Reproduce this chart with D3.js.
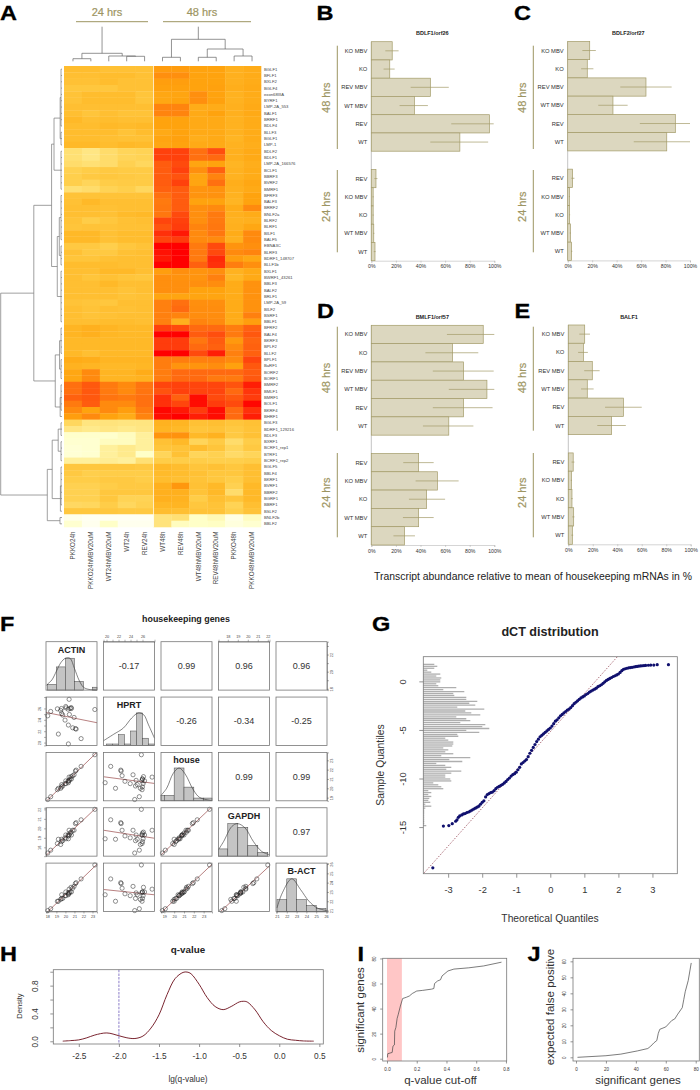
<!DOCTYPE html>
<html>
<head>
<meta charset="utf-8">
<script src="https://cdn.jsdelivr.net/npm/d3@7"></script>
<style>
    body { margin: 0; background: #fff; }
    text { font-family: "Liberation Sans", Arial, sans-serif; }
    .panel-letter { font-size: 21px; font-weight: bold; fill: #000; stroke: #000; stroke-width: 0.3; }
    .bar-axis path, .bar-axis line { stroke: #aaa; stroke-width: 0.5; }
    .bar-axis text { font-size: 5.2px; fill: #333; }
    .pair-axis path, .pair-axis line { stroke: #444; stroke-width: 0.4; }
    .pair-axis text { font-size: 3.8px; fill: #444; }
    .r-axis path, .r-axis line { stroke: #666; stroke-width: 0.7; }
    .frame { fill: none; stroke: #777; stroke-width: 0.8; }
</style>
</head>
<body>
<svg id="chart" width="700" height="1090"></svg>
<script>
// ---- panel A
const heatColumns = ['PKKO24h', 'PKKO24hMBV20uM', 'WT24hMBV20uM', 'WT24h', 'REV24h', 'WT48h', 'REV48h',
    'WT48hMBV20uM', 'REV48hMBV20uM', 'PKKO48h', 'PKKO48hMBV20uM'];
const heatGenes = ['BGLF1', 'BFLF1', 'BXLF2', 'BGLF4', 'exon68IIIA', 'BYRF1', 'LMP-2A_553', 'BALF1', 'BRRF1', 'BDLF4',
    'BLLF3', 'BGLF1', 'LMP-1', 'BDLF2', 'BDLF1', 'LMP-2A_166576', 'BCLF1', 'BBRF3', 'BVRF2', 'BMRF1', 'BFRF3',
    'BALF3', 'BRRF2', 'BNLF2a', 'BLRF2', 'BLRF1', 'BILF1', 'BALF5', 'EBNA3C', 'BLRF3', 'BDRF1_148707', 'BLLF1b',
    'BXLF1', 'BWRF1_43261', 'BBLF3', 'BALF2', 'BRLF1', 'LMP-2A_59', 'BILF2', 'BSRF1', 'BBLF1', 'BFRF2', 'BALF4',
    'BKRF3', 'BPLF2', 'BLLF2', 'BPLF1', 'BaRF1', 'BORF2', 'BORF1', 'BMRF2', 'BMLF1', 'BMRF1', 'BOLF1', 'BKRF4',
    'BHRF1', 'BGLF3', 'BDRF1_129216', 'BDLF3', 'BXRF1', 'BCRF1_rep1', 'BTRF1', 'BCRF1_rep2', 'BGLF5', 'BBLF4',
    'BKRF1', 'BVRF1', 'BBRF2', 'BGRF1', 'BBRF1', 'BSLF2', 'BNLF2b', 'BBLF2'];
const heatValues = [
    [4.8, 4.8, 4.6, 4.6, 4.6, 6.3, 6.3, 6, 6, 5.4, 5.6],
    [4.7, 4.7, 4.8, 4.8, 4.6, 6.8, 6.8, 6, 6, 5.4, 5.6],
    [4.6, 4.6, 4.8, 4.6, 4.6, 6.2, 6.2, 6, 6, 5.4, 5.6],
    [4.3, 4.3, 4.3, 4.6, 4.6, 6.1, 6.1, 6, 6.1, 5.5, 5.7],
    [4.5, 4.8, 4.8, 4.8, 4.4, 5.8, 5.9, 6.8, 6, 5.3, 5.6],
    [4.5, 4.8, 4.8, 4.8, 4.4, 5.8, 6, 6.8, 6.1, 5.3, 5.6],
    [4.7, 4.7, 4.7, 4.7, 4.7, 7.2, 7.2, 5.6, 5.6, 5.4, 5.7],
    [4.7, 4.4, 4.7, 4.5, 4.5, 7.2, 7.2, 5.7, 6, 5.4, 5.7],
    [5, 4.7, 4.8, 4.7, 4.7, 6, 6, 5.7, 5.7, 5.3, 5.6],
    [4.8, 4.8, 5, 4.9, 5, 6, 6, 5.7, 5.7, 5.3, 5.6],
    [4.8, 4.8, 4.8, 4.5, 4.8, 5.7, 6, 5.7, 5.7, 5.3, 5.6],
    [4.8, 4.8, 4.7, 4.6, 4.6, 5.9, 6.1, 5.5, 5.7, 5.2, 5.6],
    [5, 5, 4.8, 5, 4.9, 5.8, 6, 5.7, 5.7, 5.3, 5.5],
    [3, 2.6, 3.2, 3.6, 3.7, 8.9, 8.9, 7.8, 8.6, 5.4, 5.7],
    [3, 2.6, 3.2, 3.6, 3.7, 8.9, 8.9, 7.8, 8, 5.4, 5.7],
    [3.2, 3, 3.2, 3.8, 3.5, 8.3, 8.7, 5.9, 6, 5.2, 5.5],
    [3.8, 4, 4.2, 4.1, 4.1, 8.3, 8.9, 6.8, 8.2, 5.3, 5.6],
    [3.9, 4.2, 4.3, 4.2, 4.1, 8.3, 8.5, 5.9, 7.2, 5.3, 5.6],
    [3.9, 3.6, 4, 4.1, 4.1, 8.3, 8.9, 5.9, 7.8, 5.5, 5.8],
    [3, 3.2, 3.7, 3.9, 3.5, 8.2, 8.3, 6.6, 6.7, 5.4, 5.7],
    [4.5, 4.5, 4.5, 4.5, 4.5, 7.8, 8.3, 6.6, 6.7, 5.3, 6],
    [4.6, 5, 4.7, 4.7, 4.7, 7.5, 8.3, 6, 6, 5.2, 6],
    [4.7, 4.7, 4.6, 4.7, 4.7, 7.6, 8.3, 6.8, 7, 5.6, 7],
    [4.7, 4.7, 4.6, 4.9, 5, 7.6, 8.7, 6.8, 7.5, 5.4, 5.6],
    [4.5, 4, 4.3, 4.6, 4.7, 8.8, 8.9, 6.8, 7.5, 5.3, 5.4],
    [4.4, 4.5, 4.5, 4.6, 4.6, 8.5, 9, 7.2, 7.6, 5.4, 5.8],
    [5, 5, 4.6, 4.8, 4.8, 9.2, 9.6, 7, 7.6, 5.6, 7],
    [5, 5, 4.6, 4.8, 4.8, 8.8, 9, 7, 7, 5.4, 7],
    [4.2, 4.2, 3.9, 4.3, 4.5, 10, 10, 7.5, 8.7, 6.6, 6.8],
    [4.6, 4.2, 4.2, 4.6, 4.7, 9.7, 10, 7.5, 8.7, 7, 7.2],
    [4.4, 4.4, 4.6, 4.7, 4.7, 9.6, 10, 7.5, 9.3, 6.3, 5.8],
    [4.8, 4.8, 4.8, 4.7, 4.7, 10, 10, 8.2, 9.2, 7.4, 6.8],
    [4.7, 4.7, 5, 5, 4.7, 6.2, 6.8, 6.6, 6.8, 5.3, 5.7],
    [4.7, 4.4, 4.6, 4.4, 4.3, 6.8, 6.7, 6.6, 7.3, 5.1, 5.7],
    [4.7, 4.7, 5, 4.7, 4.7, 6.8, 6.8, 6.8, 6.9, 5.6, 6.7],
    [4.7, 4.7, 4.7, 4.5, 4.7, 6.8, 6.8, 6, 6, 5.6, 6.7],
    [4.7, 4.7, 4.7, 4.5, 4.6, 5.9, 5.9, 5.9, 5.9, 5.6, 6.7],
    [4.5, 4.4, 4.3, 4.7, 4.7, 7.3, 7.8, 6.8, 6.8, 5.6, 6.7],
    [4.7, 4.5, 4.7, 4.6, 4.7, 7.3, 8, 6.9, 6.9, 5.6, 6.7],
    [4.7, 4.5, 4.6, 4.7, 4.7, 7.3, 7.2, 6.9, 6.9, 5.6, 7.3],
    [4.7, 4.7, 4.8, 4.8, 4.7, 7.3, 5.4, 7.2, 7, 5.6, 6.2],
    [5.2, 5.4, 5.2, 5, 5, 8.9, 8.7, 8, 8, 7.4, 8.2],
    [5.2, 5.4, 5.1, 5, 5, 10, 10, 8.3, 8.6, 7.5, 8.4],
    [5, 5, 5, 5, 5, 9, 9, 7.6, 8.3, 6.4, 8.1],
    [5, 5, 5, 5, 5, 9, 9, 8, 8.2, 7, 8.2],
    [5, 4.7, 5, 5, 5, 10, 10, 8.7, 9.5, 7.3, 8.2],
    [5.6, 5.5, 5.2, 5.2, 5.2, 7.4, 7.4, 7.3, 7.3, 7, 8.8],
    [5.3, 5.2, 5, 5, 5.1, 7.4, 6.6, 6.6, 6.9, 6.1, 8.4],
    [5.8, 7, 5.2, 5.2, 5.6, 7.4, 8, 8, 8, 8, 8.3],
    [5.8, 7, 5.2, 5.2, 5.3, 7.4, 8, 8, 7.5, 7.5, 8.4],
    [7.8, 8.4, 7.5, 7, 7.7, 8.8, 8.9, 8.8, 8.8, 8.5, 9.5],
    [7.8, 8.4, 7.5, 7, 7.7, 8.5, 8.9, 8.8, 8.8, 8, 9.1],
    [8.2, 8.4, 7.7, 7.5, 7.8, 9.2, 8.2, 9.8, 8.7, 8.4, 9],
    [7.5, 8.3, 7, 7, 7.8, 9.2, 8.8, 9.8, 9, 8.7, 9.9],
    [7, 6, 7, 6.2, 7.5, 9.9, 9.6, 9, 9.8, 8, 9.2],
    [6.2, 7, 6, 5.6, 7.2, 9.8, 10, 9.5, 9.8, 8, 9.5],
    [3.5, 2.7, 2.8, 2.7, 2.7, 5.3, 5.2, 4.6, 4.7, 4.4, 4.6],
    [2.6, 2.4, 2.6, 2.4, 2.6, 5.2, 5, 4.4, 4.5, 4.2, 4.5],
    [0.9, 0.9, 0.9, 1.2, 2, 6.6, 6.7, 5, 5.3, 4.2, 4.6],
    [0.8, 0.8, 1.2, 1.2, 2, 4.6, 5, 3.6, 4.1, 3.2, 4],
    [0.7, 0.8, 2, 2.4, 2, 4.4, 4.5, 4.8, 4.4, 3.6, 4.2],
    [0.7, 0.8, 2, 2.4, 1, 3.6, 4.6, 3.6, 3.8, 3.3, 3.6],
    [2, 2, 2.2, 2, 3, 4, 4, 4, 3.9, 3.9, 4],
    [4.3, 4.3, 4.3, 4.3, 4.2, 5, 4.8, 4.4, 4.6, 4.3, 4.7],
    [4.2, 3.9, 4, 4, 4, 4.9, 4.8, 4.6, 4.3, 4.3, 4.7],
    [4, 4, 4.2, 4.2, 4, 4.8, 4.7, 4.5, 4.3, 4, 4.7],
    [3.8, 3.8, 4, 4.2, 4.2, 5.4, 6.5, 4.6, 5, 3.8, 5],
    [3.8, 3.8, 4.3, 4.3, 4.3, 5.4, 5.4, 4.5, 5, 3.2, 5],
    [3.8, 3.8, 4.3, 3.7, 3.7, 5.4, 5.3, 4, 4.7, 4.4, 5],
    [3.4, 3.5, 4, 3.5, 3.8, 5.1, 5.2, 4.3, 4.5, 3.7, 4.7],
    [4.3, 4.3, 4.3, 4.2, 4.2, 4.8, 4.7, 4.5, 4.5, 3.9, 4.5],
    [0.2, 0, 0, 0, 0, 2.8, 3, 1, 1.4, 0.3, 1.2],
    [0.8, 0.1, 1, 0.1, 0.1, 2.8, 1.2, 1, 1.1, 0.5, 0.8]
];
const heatStops = [0, 1, 2, 3, 4, 5, 6, 7, 8, 9, 10];
const heatColors = ['#fffff2', '#ffffc8', '#fff09c', '#ffe074', '#ffcd48', '#ffb928', '#ffa30e', '#ff8a0e', '#ff6a10', '#ff3c0c', '#ff0000'];

// dendrograms: [height, child, child...], a plain number is a leaf
const span = (h, a, b) => [h, ...d3.range(a, b + 1)];
const columnTreeLeft = [34.6, [8, [2.6, 0, 1], [5.3, 2, [5, 3, 4]]]];
const columnTreeRight = [34.6, [22, [4, 5, 6], [12.3, [4, 7, 8], [5.3, 9, 10]]]];
const rowTree = [100,
    [46,
        [17,
            [13, [3, span(1.6, 0, 9), span(1.6, 10, 12)], span(1.6, 13, 19)],
            [7.7, [4.4, span(1.6, 20, 27), span(1.6, 28, 31)], span(1.6, 32, 40)]],
        [11,
            [4, span(1.6, 41, 45), span(1.6, 46, 49)],
            [3, span(1.6, 50, 54), 55]]],
    [24,
        [16,
            [6.2, span(1.6, 56, 58), span(1.6, 59, 62)],
            [2.6, span(1.6, 63, 69), 70]],
        [3.3, 71, 72]]];

// ---- panels B to E
const barLabels = ['KO MBV', 'KO', 'REV MBV', 'WT MBV', 'REV', 'WT', '', 'REV', 'KO MBV', 'KO', 'WT MBV', 'WT'];
const bdlf1Bar = [17, 15, 48, 35, 96, 72, null, 3.8, 1.5, 1.5, 2, 3];
const bdlf1Low = [11.4, 10, 32, 23, 65, 48, null, 2.5, 1, 1, 1.5, 2];
const bdlf1High = [22.2, 19, 63, 46, 99.5, 95, null, 5, 2, 2, 2.5, 3.5];
const bdlf2Bar = [18, 16, 64, 37, 88, 81, null, 4, 1.4, 1.6, 2.2, 3.2];
const bdlf2Low = [12, 11, 43, 25, 59, 54, null, 3, 1, 1.2, 1.7, 2.7];
const bdlf2High = [23, 21, 85, 49, 100, 100, null, 5.5, 1.8, 2, 2.7, 3.8];
const bmlf1Bar = [91, 66, 75, 94, 75, 63, null, 38.5, 53.7, 45, 38.5, 27];
const bmlf1Low = [61.5, 44, 50, 63, 50, 42, null, 26, 36, 30.6, 25.7, 18];
const bmlf1High = [100, 87, 99.5, 100, 98.6, 83, null, 50.7, 71, 60, 50.7, 35.5];
const balf1Bar = [13.4, 12.3, 19.6, 15.5, 45, 35.4, null, 4, 2.5, 3, 4.4, 3.3];
const balf1Low = [9, 8, 13, 10.4, 30, 23.7, null, 2.7, 2, 2.3, 3.3, 2.5];
const balf1High = [17.7, 16, 25.6, 20.7, 60, 47, null, 5, 3, 3.6, 5, 4];
const percentTicks = [0, 20, 40, 60, 80, 100];

// ---- panel F
const sampleActin = [18.04, 18.37, 19.11, 19.22, 19.48, 19.56, 19.59, 19.7, 19.96, 20.04, 20.07, 20.3, 20.41, 20.33, 20.33, 20.44, 20.52, 20.63, 20.67, 20.81, 20.96, 21.11, 21.19, 21.74, 23.26];
const sampleHprt = [24.7, 25.47, 25.93, 21.5, 25.64, 25.99, 25.12, 24.83, 23.95, 26.34, 26.1, 25.87, 27.6, 23.08, 19.77, 24.94, 25.99, 26.16, 25.99, 22.6, 24.42, 22.44, 22.38, 20.7, 25.81];
const sampleHouse = [18.8, 19.1, 19.85, 20, 20, 20.15, 20.4, 20.25, 20.5, 20.8, 20.5, 20.8, 21.2, 20.75, 20.6, 20.85, 21, 21.25, 21, 21.35, 21.45, 21.85, 21.95, 22.35, 23.6];
const sampleGapdh = [17.4, 17.7, 18.4, 18.85, 18.3, 18.6, 18.85, 18.7, 19, 19.3, 18.9, 19.3, 19.8, 19.2, 18.9, 19.3, 19.5, 19.6, 19.3, 19.8, 19.8, 20.5, 20.6, 20.9, 22];
const sampleBact = [21, 21.2, 22, 22, 22.2, 22.3, 22.7, 22.3, 22.6, 23, 22.6, 22.9, 23.3, 22.8, 22.7, 22.9, 23, 23.5, 23, 23.4, 23.6, 23.9, 24, 24.4, 25.9];
const pairNames = ['ACTIN', 'HPRT', 'house', 'GAPDH', 'B-ACT'];
const pairDomains = [[17.85, 23.5], [19.5, 28], [18.66, 23.85], [17.07, 22.17], [20.9, 26.1]];
const pairTicks = [[18, 19, 20, 21, 22, 23], [20, 21, 22, 23, 24, 25, 26], [19, 20, 21, 22, 23], [18, 19, 20, 21, 22], [21, 22, 23, 24, 25, 26]];
const pairCorrelations = [['-0.17', '0.99', '0.96', '0.96'], ['-0.26', '-0.34', '-0.25'], ['0.99', '0.99'], ['0.97']];
const histBreaks = [[18, 19, 20, 21, 22, 23, 24], [20, 21, 22, 23, 24, 25, 26, 27, 28], [18.5, 19, 20, 21, 22, 23, 24], [17, 18, 19, 20, 21, 22], [21, 22, 23, 24, 25, 26]];
const histCounts = [[2, 8, 11, 3, 0, 1], [0.4, 0.4, 3, 0.4, 4, 9, 2, 0.4], [2, 2, 12, 5, 1, 1], [2, 9, 8, 3, 1], [4, 11, 4, 2, 1]];
const histTop = [16.7, 13.4, 17.7, 13.4, 16.3];
const densityX = [
    [17.9, 18, 18.5, 19, 19.5, 20, 20.5, 21, 21.5, 22, 22.5, 23, 23.5],
    [19.5, 21.2, 22.8, 24.2, 25.3, 26.2, 27, 28],
    [18.66, 19.24, 19.9, 20.5, 21.1, 21.95, 22.6, 23.85],
    [17.07, 17.57, 18.4, 18.97, 19.73, 20.57, 21.4, 22.17],
    [21, 21.55, 22.5, 23.4, 24.25, 25.1, 26.1]];
const densityY = [
    [1.6, 2, 3.5, 6.5, 9.5, 11, 11, 7.5, 3.5, 1, 0.3, 0.1, 0],
    [1.3, 3.1, 4.8, 7.6, 9, 8.5, 5.7, 2],
    [2, 4.6, 10, 12, 9.9, 4, 1.2, 0.1],
    [1.8, 4, 8.2, 9, 7.8, 4, 1.3, 0.4],
    [1.2, 6.3, 11, 7.4, 3.5, 1.2, 0.3]];

// ---- panel G
const qqTheoretical = [-3.45, -3.14, -2.98, -2.88, -2.78, -2.74, -2.7, -2.66, -2.6, -2.55, -2.5, -2.45, -2.4, -2.35, -2.3, -2.25, -2.2, -2.15, -2.1, -2.05, -2, -1.95, -1.9, -1.85, -1.8, -1.75, -1.7, -1.65, -1.6, -1.55, -1.5, -1.45, -1.4, -1.35, -1.3, -1.25, -1.2, -1.15, -1.1, -1.05, -1, -0.95, -0.9, -0.85, -0.8, -0.75, -0.7, -0.65, -0.6, -0.55, -0.5, -0.45, -0.4, -0.35, -0.3, -0.25, -0.2, -0.15, -0.1, -0.05, 0, 0.05, 0.1, 0.15, 0.2, 0.25, 0.3, 0.35, 0.4, 0.45, 0.5, 0.55, 0.6, 0.65, 0.7, 0.75, 0.8, 0.85, 0.9, 0.95, 1, 1.05, 1.1, 1.15, 1.2, 1.25, 1.3, 1.35, 1.4, 1.45, 1.5, 1.55, 1.6, 1.65, 1.7, 1.75, 1.8, 1.85, 1.9, 1.95, 2, 2.05, 2.1, 2.15, 2.2, 2.25, 2.3, 2.35, 2.4, 2.45, 2.5, 2.55, 2.6, 2.65, 2.7, 2.75, 2.8, 2.88, 2.95, 3.04, 3.14, 3.47];
const qqSample = [-19.2, -14.9, -14.85, -14.65, -14.4, -14.25, -14, -13.85, -13.75, -13.65, -13.6, -13.5, -13.45, -13.35, -13.25, -13.15, -13.05, -12.95, -12.85, -12.65, -12.45, -12.3, -11.9, -11.65, -11.55, -11.45, -11.4, -11.25, -11.05, -10.9, -10.8, -10.7, -10.6, -10.45, -10.3, -10.1, -9.95, -9.75, -9.6, -9.5, -9.35, -9.1, -8.85, -8.5, -8.35, -8.2, -8.05, -7.75, -7.4, -7.1, -6.8, -6.5, -6.2, -5.95, -5.7, -5.55, -5.4, -5.25, -5.1, -4.95, -4.8, -4.6, -4.35, -4.1, -3.95, -3.75, -3.55, -3.4, -3.25, -3.1, -2.95, -2.85, -2.7, -2.5, -2.3, -2.15, -2, -1.85, -1.7, -1.6, -1.5, -1.35, -1.25, -1.1, -1, -0.9, -0.8, -0.7, -0.55, -0.45, -0.35, -0.2, -0.05, 0.1, 0.2, 0.3, 0.4, 0.5, 0.58, 0.66, 0.76, 0.92, 1.1, 1.24, 1.3, 1.35, 1.39, 1.42, 1.45, 1.48, 1.51, 1.54, 1.57, 1.59, 1.61, 1.63, 1.64, 1.66, 1.68, 1.68, 1.72, 1.72];
const qqLineX = [-3.7, 1.97];
const qqLineY = [-19.7, 2.54];
const qqXTicks = [-3, -2, -1, 0, 1, 2, 3];
const qqYTicks = [0, -5, -10, -15];
const qqHistTop = 1.75;
const qqHistStep = 0.2;
const qqHistCounts = [11, 14, 11, 4, 8, 17, 13, 18, 17, 17, 13, 15, 33, 20, 41, 30, 31, 43, 43, 54, 46, 52, 34, 61, 42, 48, 57, 33, 43, 47, 37, 62, 59, 66, 43, 56, 34, 35, 22, 25, 30,
    30, 29, 20, 25, 22, 30, 18, 47, 26, 39, 13, 22, 28, 23, 38, 28, 22, 22, 27, 28, 10, 15, 18, 20, 5, 8, 5, 8, 6, 5, 7, 2, 8, 2, 1, 1, 1, 1, 1, 1, 1, 1, 3];

// ---- panel H
const densityLogQ = [-2.7, -2.6, -2.5, -2.4, -2.3, -2.15, -2, -1.9, -1.8, -1.7, -1.6, -1.5, -1.4, -1.3, -1.2, -1.15, -1.1, -1, -0.9, -0.8, -0.7, -0.6, -0.5, -0.45, -0.4, -0.3, -0.2, -0.1, 0, 0.1, 0.2, 0.3, 0.43];
const densityValue = [0.002, 0.01, 0.02, 0.05, 0.09, 0.12, 0.08, 0.05, 0.04, 0.075, 0.19, 0.38, 0.67, 0.9, 0.99, 0.995, 0.97, 0.82, 0.63, 0.5, 0.455, 0.5, 0.565, 0.575, 0.565, 0.45, 0.28, 0.155, 0.08, 0.03, 0.015, 0.005, 0.002];
const qCutoff = -2;

// ---- panels I and J
const cutoffQ = [0.003, 0.005, 0.02, 0.035, 0.04, 0.05, 0.052, 0.06, 0.068, 0.075, 0.09, 0.105, 0.13, 0.15, 0.17, 0.2, 0.24, 0.3, 0.315, 0.32, 0.34, 0.36, 0.37, 0.39, 0.41, 0.45, 0.55, 0.65, 0.77];
const cutoffGenes = [1, 4, 4.5, 5, 10, 11, 22, 25, 32, 35, 42, 48, 49, 50, 52, 54, 54.5, 55.5, 56, 60, 62, 63, 66, 68, 70, 71.5, 72.5, 74, 77];
const falseGenes = [1, 20, 30, 41, 48, 50, 52, 54, 55, 56, 60, 64, 66, 68, 71, 72, 73, 75, 77];
const falsePositive = [0, 1, 2, 4, 5.5, 7, 9, 10.5, 15, 17.5, 19, 23, 24, 27, 31, 36, 41, 48, 59];

const svg = d3.select('#chart');
const olive = '#9d9562';

const addLetters = () => {
    const letters = [['A', 0, 19.5], ['B', 316.5, 20], ['C', 514, 20], ['D', 317, 317.5], ['E', 514.5, 317.5],
        ['F', 0, 631], ['G', 372, 631], ['H', 0, 961], ['I', 357.5, 961], ['J', 527.5, 961]];

    svg.selectAll('.panel-letter')
        .data(letters)
        .join('text')
        .classed('panel-letter', true)
        .attr('transform', d => 'translate(' + d[1] + ',' + d[2] + ') scale(1.12,1)')
        .text(d => d[0]);
};

// lays a nested tree out; pos(leaf) gives the leaf's position along the heatmap edge
const layoutTree = (spec, pos) => {
    const root = d3.hierarchy(spec, d => Array.isArray(d) ? d.slice(1) : null);
    root.eachAfter(node => {
        node.h = node.children ? node.data[0] : 0;
        node.p = node.children
            ? (node.children[0].p + node.children[node.children.length - 1].p) / 2
            : pos(node.data);
    });
    return root;
};

const treeSegments = (root) => {
    const segments = [];
    root.each(node => {
        if (node.children){
            const first = node.children[0].p;
            const last = node.children[node.children.length - 1].p;
            segments.push([first, node.h, last, node.h]);
            node.children.forEach(child => segments.push([child.p, child.h, child.p, node.h]));
        }
    });
    return segments;
};

const addHeatmap = () => {
    const x = d3.scaleBand().domain(heatColumns).range([64, 261]);
    const y = d3.scaleBand().domain(d3.range(heatGenes.length)).range([66, 527]);
    const color = d3.scaleLinear().domain(heatStops).range(heatColors);

    const g = svg.append('g').classed('heatmap', true);

    heatValues.forEach((row, i) => {
        g.selectAll(null)
            .data(row)
            .join('rect')
            .attr('x', (d, j) => x(heatColumns[j]))
            .attr('y', y(i))
            .attr('width', x.bandwidth() + 0.3)
            .attr('height', y.bandwidth() + 0.3)
            .attr('fill', d => color(d));
    });

    g.append('line')
        .attr('x1', x('WT48h')).attr('x2', x('WT48h'))
        .attr('y1', y.range()[0]).attr('y2', y.range()[1])
        .attr('stroke', '#fff').attr('stroke-width', 0.7);

    g.selectAll('.gene')
        .data(heatGenes)
        .join('text')
        .attr('x', 264)
        .attr('y', (d, i) => y(i) + y.bandwidth() / 2 + 1.4)
        .attr('font-size', 4.2)
        .attr('fill', '#444')
        .text(d => d);

    g.selectAll('.column')
        .data(heatColumns)
        .join('text')
        .attr('text-anchor', 'end')
        .attr('transform', d => 'translate(' + (x(d) + x.bandwidth() / 2 + 2.2) + ',531.5) rotate(-90)')
        .attr('font-size', 6.3)
        .attr('fill', '#444')
        .text(d => d);

    // column trees
    const colY = d3.scaleLinear().domain([0, 34.6]).range([61.3, 26.7]);
    const colPos = leaf => x(heatColumns[leaf]) + x.bandwidth() / 2;
    [columnTreeLeft, columnTreeRight].forEach(tree => {
        g.append('path')
            .attr('fill', 'none').attr('stroke', '#666').attr('stroke-width', 0.7)
            .attr('d', treeSegments(layoutTree(tree, colPos))
                .map(s => 'M' + s[0] + ',' + colY(s[1]) + 'L' + s[2] + ',' + colY(s[3])).join(''));
    });

    // row tree
    const rowX = d3.scaleLinear().domain([0, 100]).range([62, 0.7]);
    const rowPos = leaf => y(leaf) + y.bandwidth() / 2;
    g.append('path')
        .attr('fill', 'none').attr('stroke', '#777').attr('stroke-width', 0.7)
        .attr('d', treeSegments(layoutTree(rowTree, rowPos))
            .map(s => 'M' + rowX(s[1]) + ',' + s[0] + 'L' + rowX(s[3]) + ',' + s[2]).join(''));

    // time brackets
    const groups = [['24 hrs', 107, 76, 148], ['48 hrs', 202, 163, 251]];
    groups.forEach(d => {
        g.append('text')
            .attr('x', d[1]).attr('y', 15.9)
            .attr('text-anchor', 'middle')
            .attr('font-size', 11)
            .attr('fill', olive)
            .attr('stroke', olive)
            .attr('stroke-width', 0.2)
            .text(d[0]);
        g.append('line')
            .attr('x1', d[2]).attr('x2', d[3])
            .attr('y1', 21.7).attr('y2', 21.7)
            .attr('stroke', olive).attr('stroke-width', 1);
    });
};

const addBarPanel = (title, bars, low, high, o) => {
    const x = d3.scaleLinear().domain([0, 100]).range([o.x0, o.x1]);
    const y = d3.scaleBand().domain(d3.range(barLabels.length)).range([o.top, o.bottom]);
    const g = svg.append('g').classed('bar-panel', true);

    g.append('line')
        .attr('x1', o.x0).attr('x2', o.x0)
        .attr('y1', o.top).attr('y2', o.bottom)
        .attr('stroke', '#c4c4c4').attr('stroke-width', 1);

    g.append('g')
        .classed('bar-axis', true)
        .attr('transform', 'translate(0,' + o.bottom + ')')
        .call(d3.axisBottom(x).tickValues(percentTicks).tickFormat(d => d + '%').tickSize(2).tickPadding(2));

    const rows = bars.map((d, i) => ({ i, bar: d, low: low[i], high: high[i], label: barLabels[i] }))
        .filter(d => d.bar !== null);

    g.selectAll('.bar')
        .data(rows)
        .join('rect')
        .attr('x', o.x0)
        .attr('y', d => y(d.i))
        .attr('width', d => x(d.bar) - o.x0)
        .attr('height', y.bandwidth())
        .attr('fill', '#dcd7bf')
        .attr('stroke', '#a39b68')
        .attr('stroke-width', 0.7);

    g.selectAll('.err')
        .data(rows)
        .join('line')
        .attr('x1', d => x(d.low))
        .attr('x2', d => x(d.high))
        .attr('y1', d => y(d.i) + y.bandwidth() / 2)
        .attr('y2', d => y(d.i) + y.bandwidth() / 2)
        .attr('stroke', '#a39b68')
        .attr('stroke-width', 0.7);

    g.selectAll('.lab')
        .data(rows)
        .join('text')
        .attr('x', o.x0 - 4)
        .attr('y', d => y(d.i) + y.bandwidth() / 2 + 2)
        .attr('text-anchor', 'end')
        .attr('font-size', 5.8)
        .attr('fill', '#333')
        .text(d => d.label);

    g.append('text')
        .attr('x', (o.x0 + o.x1) / 2 - 0.5)
        .attr('y', o.titleY)
        .attr('text-anchor', 'middle')
        .attr('font-size', 5.5)
        .attr('font-weight', 'bold')
        .attr('fill', '#222')
        .text(title);

    o.times.forEach(t => {
        g.append('line')
            .attr('x1', o.timeX).attr('x2', o.timeX)
            .attr('y1', t[1]).attr('y2', t[2])
            .attr('stroke', olive).attr('stroke-width', 1);
        g.append('text')
            .attr('transform', 'translate(' + (o.timeX - 7.5) + ',' + t[3] + ') rotate(-90)')
            .attr('text-anchor', 'middle')
            .attr('font-size', 11)
            .attr('fill', olive)
            .attr('stroke', olive)
            .attr('stroke-width', 0.2)
            .text(t[0]);
    });
};

const addBarPanels = () => {
    const upper = [['48 hrs', 45.7, 149, 97.7], ['24 hrs', 170, 252.3, 206.7]];
    const lower = [['48 hrs', 326.7, 430.7, 378], ['24 hrs', 453, 537.3, 492.7]];

    addBarPanel('BDLF1/orf26', bdlf1Bar, bdlf1Low, bdlf1High,
        { x0: 371.3, x1: 494.3, top: 41.7, bottom: 260.7, titleY: 35, timeX: 337.3, times: upper });
    addBarPanel('BDLF2/orf27', bdlf2Bar, bdlf2Low, bdlf2High,
        { x0: 567.7, x1: 690, top: 41.4, bottom: 260.4, titleY: 35, timeX: 533.3, times: upper });
    addBarPanel('BMLF1/orf57', bmlf1Bar, bmlf1Low, bmlf1High,
        { x0: 371.3, x1: 494.3, top: 325.3, bottom: 545, titleY: 319, timeX: 337.3, times: lower });
    addBarPanel('BALF1', balf1Bar, balf1Low, balf1High,
        { x0: 568.3, x1: 690.7, top: 325, bottom: 544.3, titleY: 319, timeX: 533.3, times: lower });

    svg.append('text')
        .attr('x', 533)
        .attr('y', 580)
        .attr('text-anchor', 'middle')
        .attr('font-size', 10.4)
        .attr('fill', '#222')
        .text('Transcript abundance relative to mean of housekeeping mRNAs in %');
};

// least squares line, as the lm overlay in the pairs plot
const fitLine = (xs, ys) => {
    const mx = d3.mean(xs);
    const my = d3.mean(ys);
    const b = d3.sum(xs, (v, i) => (v - mx) * (ys[i] - my)) / d3.sum(xs, v => (v - mx) * (v - mx));
    return v => my + b * (v - mx);
};

const rotateSideTicks = (axis, offset) => {
    axis.selectAll('text')
        .attr('x', 0)
        .attr('dy', 0)
        .attr('text-anchor', 'middle')
        .attr('transform', 'translate(' + offset + ',0) rotate(-90)');
};

const addPairs = () => {
    const samples = [sampleActin, sampleHprt, sampleHouse, sampleGapdh, sampleBact];
    const left = d3.range(5).map(i => 46 + 57.5 * i);
    const top = d3.range(5).map(i => 641.7 + 55.35 * i);
    const w = 51;
    const h = 48.4;

    svg.append('text')
        .attr('x', 186).attr('y', 622)
        .attr('text-anchor', 'middle')
        .attr('font-size', 8.9).attr('font-weight', 'bold').attr('fill', '#222')
        .text('housekeeping genes');

    const xScales = pairDomains.map((d, i) => d3.scaleLinear().domain(d).range([left[i], left[i] + w]).clamp(true));
    const yScales = pairDomains.map((d, i) => d3.scaleLinear().domain(d).range([top[i] + h, top[i]]));
    const defs = svg.append('defs');

    d3.range(5).forEach(row => d3.range(5).forEach(col => {
        if (row === col){
            const histY = d3.scaleLinear().domain([0, histTop[row]]).range([top[row] + h, top[row]]);
            const breaks = histBreaks[row];
            svg.append('g').selectAll('rect')
                .data(histCounts[row])
                .join('rect')
                .attr('x', (d, i) => xScales[row](breaks[i]))
                .attr('width', (d, i) => xScales[row](breaks[i + 1]) - xScales[row](breaks[i]))
                .attr('y', d => histY(d))
                .attr('height', d => histY(0) - histY(d))
                .attr('fill', '#c4c4c4')
                .attr('stroke', '#444')
                .attr('stroke-width', 0.5);
            svg.append('path')
                .datum(densityX[row].map((v, i) => [v, densityY[row][i]]))
                .attr('fill', 'none')
                .attr('stroke', '#333')
                .attr('stroke-width', 0.6)
                .attr('d', d3.line().x(d => xScales[row](d[0])).y(d => histY(d[1])).curve(d3.curveCatmullRom));
            svg.append('text')
                .attr('x', left[row] + w / 2).attr('y', top[row] + 11)
                .attr('text-anchor', 'middle')
                .attr('font-size', 9).attr('font-weight', 'bold').attr('fill', '#222')
                .text(pairNames[row]);
        }
        else if (row < col){
            svg.append('text')
                .attr('x', left[col] + w / 2).attr('y', top[row] + h / 2 + 3.2)
                .attr('text-anchor', 'middle')
                .attr('font-size', 9).attr('fill', '#333')
                .text(pairCorrelations[row][col - row - 1]);
        }
        else {
            const xs = samples[col];
            const ys = samples[row];
            const fit = fitLine(xs, ys);
            const id = 'clip-' + row + '-' + col;
            defs.append('clipPath').attr('id', id).append('rect')
                .attr('x', left[col]).attr('y', top[row]).attr('width', w).attr('height', h);
            svg.append('line')
                .attr('clip-path', 'url(#' + id + ')')
                .attr('x1', left[col]).attr('x2', left[col] + w)
                .attr('y1', yScales[row](fit(pairDomains[col][0])))
                .attr('y2', yScales[row](fit(pairDomains[col][1])))
                .attr('stroke', '#9a4a4a').attr('stroke-width', 0.7);
            svg.append('g').selectAll('circle')
                .data(xs)
                .join('circle')
                .attr('cx', d => xScales[col](d))
                .attr('cy', (d, i) => yScales[row](ys[i]))
                .attr('r', 2.1)
                .attr('fill', 'none')
                .attr('stroke', '#222')
                .attr('stroke-width', 0.5);
        }

        svg.append('rect')
            .classed('frame', true)
            .attr('x', left[col]).attr('y', top[row])
            .attr('width', w).attr('height', h);
    }));

    [0, 2, 4].forEach(i => {
        svg.append('g').classed('pair-axis', true)
            .attr('transform', 'translate(0,' + (top[4] + h) + ')')
            .call(d3.axisBottom(xScales[i]).tickValues(pairTicks[i]).tickFormat(d3.format('d')).tickSize(2).tickPadding(1.5));
    });
    [1, 3].forEach(i => {
        svg.append('g').classed('pair-axis', true)
            .attr('transform', 'translate(0,' + top[0] + ')')
            .call(d3.axisTop(xScales[i]).tickValues(pairTicks[i]).tickFormat(d => i === 1 && d % 2 ? '' : d).tickSize(2).tickPadding(1.5));
        const axis = svg.append('g').classed('pair-axis', true)
            .attr('transform', 'translate(' + left[0] + ',0)')
            .call(d3.axisLeft(yScales[i]).tickValues(pairTicks[i]).tickFormat(d => i === 1 && d % 2 ? '' : d).tickSize(2).tickPadding(1.5));
        rotateSideTicks(axis, -5);
    });
    [0, 2, 4].forEach(i => {
        const axis = svg.append('g').classed('pair-axis', true)
            .attr('transform', 'translate(' + (left[4] + w) + ',0)')
            .call(d3.axisRight(yScales[i]).tickValues(pairTicks[i]).tickFormat(d => i === 0 && d % 2 ? '' : d).tickSize(2).tickPadding(1.5));
        rotateSideTicks(axis, 6);
    });
};

const addRAxes = (x, y, frame, o) => {
    const xAxis = svg.append('g').classed('r-axis', true)
        .attr('transform', 'translate(0,' + frame.bottom + ')')
        .call(d3.axisBottom(x).tickValues(o.xTicks).tickFormat(o.xFormat).tickSize(o.tick).tickPadding(o.pad));
    xAxis.select('.domain').remove();
    xAxis.selectAll('text').attr('font-size', o.font).attr('fill', '#333');

    const yAxis = svg.append('g').classed('r-axis', true)
        .attr('transform', 'translate(' + frame.left + ',0)')
        .call(d3.axisLeft(y).tickValues(o.yTicks).tickFormat(o.yFormat).tickSize(o.tick));
    yAxis.select('.domain').remove();
    yAxis.selectAll('text')
        .attr('x', 0).attr('dy', 0)
        .attr('text-anchor', 'middle')
        .attr('font-size', o.font)
        .attr('fill', '#333')
        .attr('transform', 'translate(' + o.yOffset + ',0) rotate(-90)');

    svg.append('rect')
        .classed('frame', true)
        .attr('x', frame.left).attr('y', frame.top)
        .attr('width', frame.right - frame.left)
        .attr('height', frame.bottom - frame.top);
};

const addQQ = () => {
    const frame = { left: 423.3, right: 677.3, top: 656.7, bottom: 873.7 };
    const x = d3.scaleLinear().domain([-3.73, 3.73]).range([frame.left, frame.right]);
    const y = d3.scaleLinear().domain([-19.8, 2.54]).range([frame.bottom, frame.top]);
    const histX = d3.scaleLinear().domain([0, 66]).range([frame.left, frame.left + 66]);

    svg.append('g').selectAll('line')
        .data(qqHistCounts)
        .join('line')
        .attr('x1', frame.left)
        .attr('x2', d => histX(d))
        .attr('y1', (d, i) => y(qqHistTop - i * qqHistStep))
        .attr('y2', (d, i) => y(qqHistTop - i * qqHistStep))
        .attr('stroke', '#aeaeae')
        .attr('stroke-width', 1.3);

    svg.append('line')
        .attr('x1', x(qqLineX[0])).attr('y1', y(qqLineY[0]))
        .attr('x2', x(qqLineX[1])).attr('y2', y(qqLineY[1]))
        .attr('stroke', '#8a3040').attr('stroke-width', 0.7).attr('stroke-dasharray', '1.5 1.5');

    svg.append('g').selectAll('circle')
        .data(qqTheoretical)
        .join('circle')
        .attr('cx', d => x(d))
        .attr('cy', (d, i) => y(qqSample[i]))
        .attr('r', 1.6)
        .attr('fill', '#10106e');

    addRAxes(x, y, frame, {
        xTicks: qqXTicks, yTicks: qqYTicks, tick: 4, pad: 9, font: 9.3, yOffset: -17,
        xFormat: d => String(d), yFormat: d => String(d)
    });

    svg.append('text').attr('x', 550).attr('y', 635.5).attr('text-anchor', 'middle')
        .attr('font-size', 12.6).attr('font-weight', 'bold').attr('fill', '#222').text('dCT distribution');
    svg.append('text').attr('x', 550).attr('y', 921.5).attr('text-anchor', 'middle')
        .attr('font-size', 10.3).attr('fill', '#333').text('Theoretical Quantiles');
    svg.append('text').attr('transform', 'translate(383.5,765) rotate(-90)').attr('text-anchor', 'middle')
        .attr('font-size', 10.3).attr('fill', '#333').text('Sample Quantiles');
};

const addDensity = () => {
    const frame = { left: 53.3, right: 323.3, top: 969.7, bottom: 1044 };
    const x = d3.scaleLinear().domain([-2.818, 0.549]).range([frame.left, frame.right]);
    const y = d3.scaleLinear().domain([-0.039, 1.029]).range([frame.bottom, frame.top]);

    svg.append('line')
        .attr('x1', x(qCutoff)).attr('x2', x(qCutoff))
        .attr('y1', frame.top).attr('y2', frame.bottom)
        .attr('stroke', '#9f93d2').attr('stroke-width', 1.2).attr('stroke-dasharray', '2.5 1.2');

    svg.append('path')
        .datum(densityLogQ.map((d, i) => [d, densityValue[i]]))
        .attr('fill', 'none')
        .attr('stroke', '#7a2530')
        .attr('stroke-width', 1)
        .attr('d', d3.line().x(d => x(d[0])).y(d => y(d[1])).curve(d3.curveCatmullRom));

    addRAxes(x, y, frame, {
        xTicks: [-2.5, -2, -1.5, -1, -0.5, 0, 0.5], yTicks: [0, 0.2, 0.4, 0.6, 0.8, 1], tick: 3, pad: 6, font: 8.3, yOffset: -15,
        xFormat: d => d.toFixed(1), yFormat: d => [0, 0.4, 0.8].includes(d) ? d.toFixed(1) : ''
    });

    svg.append('text').attr('x', 188).attr('y', 953).attr('text-anchor', 'middle')
        .attr('font-size', 9.8).attr('font-weight', 'bold').attr('fill', '#222').text('q-value');
    svg.append('text').attr('x', 188).attr('y', 1082).attr('text-anchor', 'middle')
        .attr('font-size', 8.3).attr('fill', '#333').text('lg(q-value)');
    svg.append('text').attr('transform', 'translate(21.5,1006) rotate(-90)').attr('text-anchor', 'middle')
        .attr('font-size', 7.6).attr('fill', '#333').text('Density');
};

const addSmallLine = (xs, ys, o) => {
    const frame = o.frame;
    const x = d3.scaleLinear().domain(o.xDomain).range([frame.left, frame.right]);
    const y = d3.scaleLinear().domain(o.yDomain).range([frame.bottom, frame.top]);

    if (o.shade){
        svg.append('rect')
            .attr('x', x(o.shade[0])).attr('width', x(o.shade[1]) - x(o.shade[0]))
            .attr('y', frame.top).attr('height', frame.bottom - frame.top)
            .attr('fill', '#ffc6c6');
    }

    svg.append('path')
        .datum(xs.map((d, i) => [d, ys[i]]))
        .attr('fill', 'none')
        .attr('stroke', '#444')
        .attr('stroke-width', 0.7)
        .attr('d', d3.line().x(d => x(d[0])).y(d => y(d[1])));

    addRAxes(x, y, frame, {
        xTicks: o.xTicks, yTicks: o.yTicks, tick: 2.5, pad: 4, font: 4.5, yOffset: -7,
        xFormat: o.xFormat, yFormat: d => String(d)
    });

    svg.append('text').attr('x', o.xLabelX).attr('y', 1084).attr('text-anchor', 'middle')
        .attr('font-size', 11.5).attr('fill', '#333').text(o.xLabel);
    svg.append('text').attr('transform', 'translate(' + o.yLabelX + ',' + o.yLabelY + ') rotate(-90)').attr('text-anchor', 'middle')
        .attr('font-size', 11.5).attr('fill', '#333').text(o.yLabel);
};

addLetters();
addHeatmap();
addBarPanels();
addPairs();
addQQ();
addDensity();
addSmallLine(cutoffQ, cutoffGenes, {
    frame: { left: 382.7, right: 506.7, top: 958.3, bottom: 1061 },
    xDomain: [-0.0289, 0.805], yDomain: [-1.83, 80.1], shade: [0, 0.1],
    xTicks: [0, 0.2, 0.4, 0.6, 0.8], yTicks: [0, 20, 40, 60, 80], xFormat: d => d.toFixed(1),
    xLabel: 'q-value cut-off', xLabelX: 440.5, yLabel: 'significant genes', yLabelX: 364, yLabelY: 1010
});
addSmallLine(falseGenes, falsePositive, {
    frame: { left: 573, right: 699.3, top: 958.3, bottom: 1061 },
    xDomain: [-2, 82.4], yDomain: [-2.3, 61.9],
    xTicks: [0, 20, 40, 60, 80], yTicks: [0, 10, 20, 30, 40, 50, 60], xFormat: d => String(d),
    xLabel: 'significant genes', xLabelX: 638, yLabel: 'expected false positive', yLabelX: 554, yLabelY: 1007
});
</script>
</body>
</html>
